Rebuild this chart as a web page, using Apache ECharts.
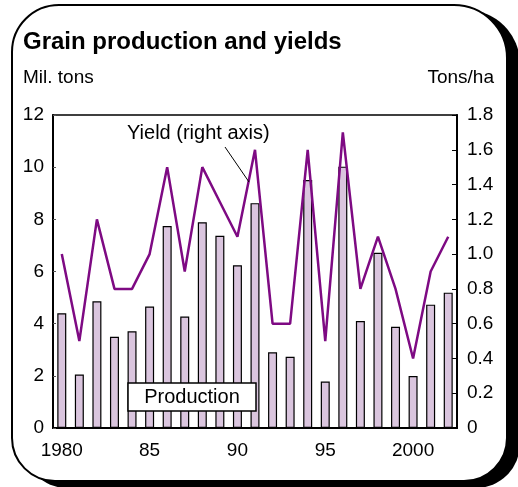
<!DOCTYPE html>
<html>
<head>
<meta charset="utf-8">
<script src="https://cdn.jsdelivr.net/npm/echarts@6/dist/echarts.min.js"></script>
<style>
  html, body { margin: 0; padding: 0; background: #fff; }
  #frame {
    position: absolute; left: 11px; top: 4px; width: 493px; height: 474px;
    border: 2px solid #000; border-radius: 48px 54px 44px 44px;
    box-shadow: 12px 6px 0 #000; background: #fff;
  }
  #main { position: absolute; left: 0; top: 0; width: 518px; height: 487px; }
</style>
</head>
<body>
<div id="frame"></div>
<div id="main"></div>
<script>
// 年份 (x 轴类目)
var years = ['1980', '1981', '1982', '1983', '1984', '1985', '1986', '1987', '1988', '1989', '1990',
  '1991', '1992', '1993', '1994', '1995', '1996', '1997', '1998', '1999', '2000', '2001', '2002']
// 只显示每五年的刻度标签
var yearLabels = ['1980', '85', '90', '95', '2000']

// 产量 (百万吨, 左轴)
var production = [4.4, 2.05, 4.86, 3.5, 3.71, 4.66, 7.74, 4.27, 7.89, 7.37, 6.24,
  8.62, 2.9, 2.73, 9.51, 1.78, 10.02, 4.1, 6.72, 3.88, 1.99, 4.73, 5.19]
// 单产 (吨/公顷, 右轴)
var yieldVals = [1.0, 0.5, 1.2, 0.8, 0.8, 1.0, 1.5, 0.9, 1.5, 1.3, 1.1,
  1.6, 0.6, 0.6, 1.6, 0.5, 1.7, 0.8, 1.1, 0.8, 0.4, 0.9, 1.1]

var font = 'Liberation Sans, Arial, sans-serif'
var chart = echarts.init(document.getElementById('main'))

chart.setOption({
  animation: false,
  textStyle: { fontFamily: font, color: '#000' },
  grid: {
    left: 53, right: 61, top: 115, bottom: 59,
    show: true, borderColor: '#000', borderWidth: 1.5, backgroundColor: 'transparent'
  },
  xAxis: {
    type: 'category',
    data: years,
    boundaryGap: true,
    axisLine: { lineStyle: { color: '#000', width: 2 } },
    axisTick: { alignWithLabel: true, interval: 0, length: 6, lineStyle: { color: '#000', width: 1 } },
    axisLabel: {
      interval: 4, margin: 13, fontSize: 19, color: '#000', fontFamily: font,
      formatter: function (v, i) { return yearLabels[i / 5] }
    }
  },
  yAxis: [
    {
      type: 'value', min: 0, max: 12, interval: 2, position: 'left',
      splitLine: { show: false },
      axisLine: { show: true, lineStyle: { color: '#000', width: 2 } },
      axisTick: { show: true, inside: true, length: 3, lineStyle: { color: '#555' } },
      axisLabel: { fontSize: 19, margin: 9, color: '#000', fontFamily: font }
    },
    {
      type: 'value', min: 0, max: 1.8, interval: 0.2, position: 'right',
      splitLine: { show: false },
      axisLine: { show: true, lineStyle: { color: '#000', width: 2 } },
      axisTick: { show: true, inside: true, length: 5, lineStyle: { color: '#000' } },
      axisLabel: {
        fontSize: 19, margin: 10, color: '#000', fontFamily: font,
        formatter: function (v) { return v === 0 ? '0' : v.toFixed(1) }
      }
    }
  ],
  series: [
    {
      name: 'Production',
      type: 'bar',
      yAxisIndex: 0,
      barWidth: 9,
      itemStyle: { color: '#dac5de', borderColor: '#000', borderWidth: 1.2 },
      data: production
    },
    {
      name: 'Yield',
      type: 'line',
      yAxisIndex: 1,
      symbol: 'none',
      lineStyle: { color: '#7e0a83', width: 2.5 },
      z: 5,
      data: yieldVals
    }
  ],
  graphic: [
    { type: 'text', left: 23, top: 30, z: 100, style: { text: 'Grain production and yields', font: 'bold 24px ' + font, fill: '#000' } },
    { type: 'text', left: 23, top: 68, z: 100, style: { text: 'Mil. tons', font: '19px ' + font, fill: '#000' } },
    { type: 'text', right: 24, top: 68, z: 100, style: { text: 'Tons/ha', font: '19px ' + font, fill: '#000' } },
    { type: 'text', left: 127, top: 123, z: 100, style: { text: 'Yield (right axis)', font: '20px ' + font, fill: '#000' } },
    { type: 'line', z: 100, shape: { x1: 225, y1: 147, x2: 249, y2: 182 }, style: { stroke: '#000', lineWidth: 1 } },
    { type: 'rect', z: 100, shape: { x: 128, y: 383, width: 128, height: 28 }, style: { fill: '#fff', stroke: '#000', lineWidth: 1.5 } },
    { type: 'text', z: 101, x: 192, y: 397, style: { text: 'Production', font: '20px ' + font, fill: '#000', align: 'center', verticalAlign: 'middle' } }
  ]
})
</script>
</body>
</html>
